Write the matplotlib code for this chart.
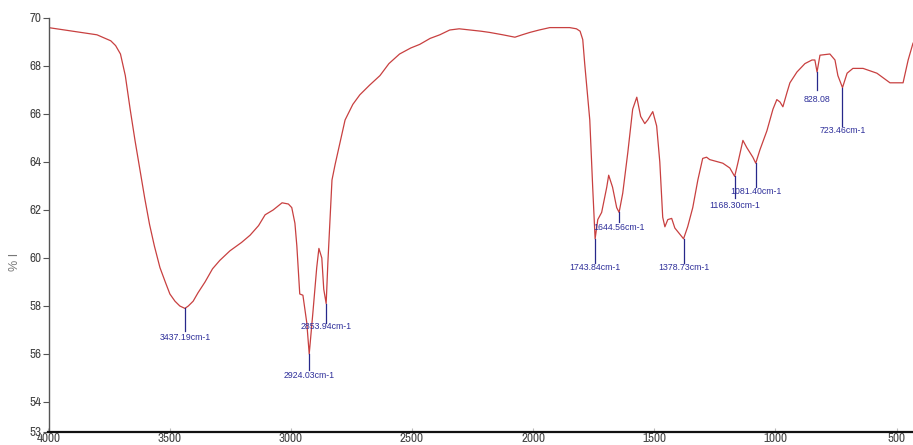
import matplotlib
matplotlib.use("Agg")
import matplotlib.pyplot as plt
from matplotlib import font_manager

wavenumber = [4000, 3900, 3800, 3743, 3723, 3703, 3683, 3663, 3643, 3623, 3603, 3583, 3563, 3540, 3518,
              3499, 3478, 3458, 3437, 3423, 3403, 3383, 3354, 3323, 3293, 3251, 3203, 3168, 3133, 3106,
              3073, 3036, 3010, 2996, 2983, 2975, 2963, 2950, 2934, 2924, 2909, 2893, 2884, 2872, 2864,
              2854, 2847, 2830, 2817, 2776, 2744, 2715, 2675, 2632, 2595, 2551, 2505, 2468, 2425, 2385,
              2344, 2305, 2261, 2215, 2180, 2125, 2075, 2045, 2013, 1975, 1931, 1885, 1849, 1821, 1806,
              1795, 1787, 1766, 1754, 1744, 1733, 1717, 1709, 1696, 1688, 1672, 1655, 1645, 1630, 1609,
              1589, 1572, 1556, 1539, 1527, 1506, 1490, 1477, 1465, 1456, 1444, 1428, 1415, 1395, 1379,
              1362, 1341, 1320, 1300, 1284, 1271, 1217, 1188, 1168, 1155, 1134, 1118, 1093, 1081, 1064,
              1035, 1010, 994, 981, 969, 952, 940, 911, 878, 849, 837, 828, 816, 775, 754,
              742, 723, 704, 680, 638, 581, 527, 473, 452, 432]
transmittance = [69.6, 69.45, 69.3, 69.05, 68.85, 68.5, 67.6, 66.2, 64.9, 63.7, 62.5, 61.4, 60.5, 59.6, 59.0,
                 58.5, 58.2, 58.0, 57.9, 58.0, 58.2, 58.55, 59.0, 59.55, 59.9, 60.3, 60.65, 60.95, 61.35, 61.8,
                 62.0, 62.3, 62.25, 62.1, 61.45, 60.5, 58.5, 58.45, 57.3, 56.0, 57.7, 59.6, 60.4, 60.0, 58.7,
                 58.1, 59.8, 63.25, 63.9, 65.75, 66.4, 66.8, 67.2, 67.6, 68.1, 68.5, 68.75, 68.9, 69.15, 69.3,
                 69.5, 69.55, 69.5, 69.45, 69.4, 69.3, 69.2, 69.3, 69.4, 69.5, 69.6, 69.6, 69.6, 69.55, 69.45,
                 69.1, 68.1, 65.75, 62.95, 60.8, 61.6, 61.9, 62.3, 62.95, 63.45, 62.95, 62.1, 61.9, 62.7, 64.4,
                 66.2, 66.7, 65.9, 65.6, 65.75, 66.1, 65.5, 64.0, 61.7, 61.3, 61.6, 61.65, 61.25, 61.0, 60.8,
                 61.3, 62.1, 63.25, 64.15, 64.2, 64.1, 63.95, 63.75, 63.4, 63.95, 64.9, 64.6, 64.2, 63.95, 64.5,
                 65.3, 66.2, 66.6, 66.5, 66.3, 66.9, 67.3, 67.75, 68.1, 68.25, 68.25, 67.75, 68.45, 68.5, 68.25,
                 67.6, 67.1, 67.7, 67.9, 67.9, 67.7, 67.3, 67.3, 68.25, 68.95]

# peak labels
peak_wn = [3437.19, 2924.03, 2853.94, 1743.84, 1644.56, 1378.73, 1168.30, 1081.40, 828.08, 723.46]
peak_T = [57.9, 56.0, 58.1, 60.8, 61.9, 60.8, 63.4, 63.95, 67.75, 67.1]
peak_labels = ["3437.19cm-1", "2924.03cm-1", "2853.94cm-1", "1743.84cm-1", "1644.56cm-1",
               "1378.73cm-1", "1168.30cm-1", "1081.40cm-1", "828.08", "723.46cm-1"]
line_end_T = [56.95, 55.35, 57.3, 59.8, 61.5, 59.8, 62.5, 62.95, 67.0, 65.5]
text_T = [56.7, 55.1, 57.15, 59.6, 61.25, 59.6, 62.2, 62.75, 66.6, 65.3]

xticks = [4000, 3500, 3000, 2500, 2000, 1500, 1000, 500]
yticks = [54, 56, 58, 60, 62, 64, 66, 68, 70]

# find a narrow / condensed font for the tick labels
narrow_path = None
for f in font_manager.fontManager.ttflist:
    if "Narrow" in f.name and "Bold" not in f.fname and "Italic" not in f.fname:
        narrow_path = f.fname
        break
if narrow_path is None:
    for f in font_manager.fontManager.ttflist:
        if "Condensed" in f.fname and "Bold" not in f.fname and "Oblique" not in f.fname \
                and "Italic" not in f.fname and "Sans" in f.fname:
            narrow_path = f.fname
            break

if narrow_path:
    tick_fp = font_manager.FontProperties(fname=narrow_path, size=9.5)
else:
    tick_fp = font_manager.FontProperties(family="DejaVu Sans", size=8.5)

fig = plt.figure(figsize=(9.13, 4.45), dpi=100)
ax = fig.add_axes([48.5 / 913, 13 / 445, 1 - 48.5 / 913, 414 / 445])

ax.plot(wavenumber, transmittance, color="#c84040", lw=0.9)

for w, p, le, tt, lab in zip(peak_wn, peak_T, line_end_T, text_T, peak_labels):
    ax.plot([w, w], [p, le], color="#27288a", lw=0.9)
    ax.text(w, tt, lab, ha="center", va="center", fontsize=6.3,
            color="#2e2f9a", family="Liberation Sans")

ax.set_xlim(4000, 432)
ax.set_ylim(52.75, 70)
ax.set_xticks(xticks)
ax.set_yticks([52.75] + yticks)
ax.set_yticklabels(["53"] + [str(v) for v in yticks])
ax.set_xticklabels([str(v) for v in xticks])

for s in ["top", "right"]:
    ax.spines[s].set_visible(False)
ax.spines["left"].set_color("#555555")
ax.spines["left"].set_linewidth(1.0)
ax.spines["bottom"].set_color("#111111")
ax.spines["bottom"].set_linewidth(1.6)

ax.tick_params(axis="y", direction="out", length=4, width=0.8, color="#555555",
               labelcolor="#444444", pad=1)
ax.tick_params(axis="x", direction="in", length=3, width=0.8, color="#bbbbbb",
               labelcolor="#444444", pad=1)
for lab in ax.get_xticklabels() + ax.get_yticklabels():
    lab.set_fontproperties(tick_fp)

fig.text(15 / 913, 1 - 262 / 445, "% I", rotation=90, ha="center", va="center",
         fontsize=9, color="#777777", family="Liberation Sans")

fig.savefig("out.png", dpi=100)
